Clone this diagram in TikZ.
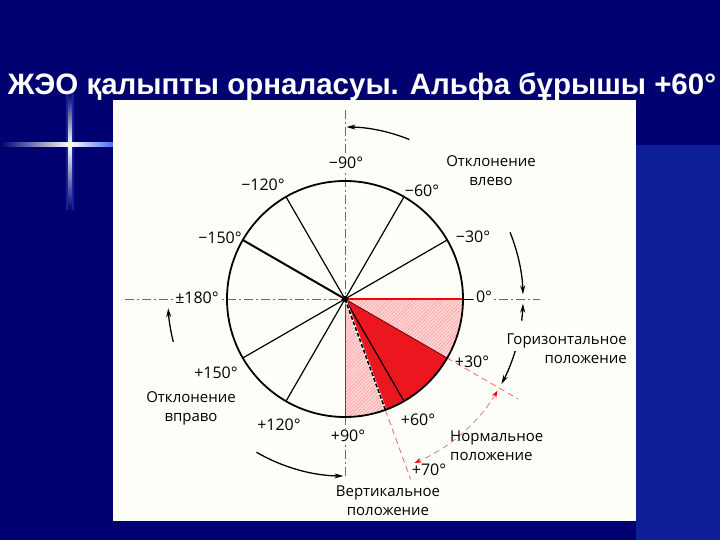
\documentclass[tikz,border=0pt]{standalone}
\usepackage{fontspec}
\setmainfont{Open Sans}
\newfontfamily\titlefont{Liberation Sans}
\usetikzlibrary{arrows.meta,patterns.meta}
\definecolor{slidebg}{RGB}{0,0,112}
\definecolor{slidebglight}{RGB}{14,30,150}
\definecolor{glowblue}{RGB}{70,110,255}
\definecolor{paper}{RGB}{255,255,250}
\definecolor{axisred}{RGB}{214,62,84}
\definecolor{sectorred}{RGB}{236,22,30}

\begin{document}
\begin{tikzpicture}[x=1pt,y=-1pt,
    axis/.style={axisred, line width=0.9pt, dash pattern=on 9pt off 3pt on 2pt off 3pt},
    ray/.style={axisred!70, line width=0.9pt, dash pattern=on 6pt off 4pt},
    spoke/.style={line width=1.2pt},
    turn/.style={line width=1.3pt, -{Stealth[length=9pt,width=5pt]}},
    lbl/.style={font=\fontsize{16}{18}\selectfont, inner sep=1pt},
    cover/.style={lbl, fill=paper},
    note/.style={font=\fontsize{15}{19}\selectfont, align=center, inner sep=0pt}]

    \useasboundingbox (0,0) rectangle (720,540);
    % slide background with the glowing cross
    \fill[slidebg] (0,0) rectangle (720,540);
    \fill[slidebglight] (636,145) rectangle (720,540);
    \fill[glowblue, opacity=0.3] (66,92) rectangle (74,210);
    \shade[top color=slidebg, bottom color=white] (68.5,92) rectangle (71.5,145);
    \shade[top color=white, bottom color=slidebg] (68.5,145) rectangle (71.5,210);
    \shade[left color=slidebg, right color=white] (0,143) rectangle (70,147);
    \shade[left color=white, right color=glowblue] (70,143) rectangle (113,147);

    \node[text=white, font=\titlefont\bfseries\fontsize{29.5}{31}\selectfont] (title) at (362,87) {ЖЭО қалыпты орналасуы. Альфа бұрышы +60°};

    % white sheet
    \fill[paper] (113,100) rectangle (636,521);

    \begin{scope}[shift={(345,299)}]
        \coordinate (O) at (0,0);
        % hatched quadrant 0..90
        \fill[red!16] (O) -- (0:118) arc[start angle=0, end angle=90, radius=118] -- cycle;
        \fill[pattern={Lines[angle=45, distance=2.5pt, line width=0.4pt]}, pattern color=red!45]
            (O) -- (0:118) arc[start angle=0, end angle=90, radius=118] -- cycle;
        % normal range 30..70
        \fill[sectorred] (O) -- (30:118) arc[start angle=30, end angle=70, radius=118] -- cycle;
        \draw[red!40!black, line width=0.8pt] (O) -- (30:118);

        % axes
        \draw[axis] (-220,0) -- (195,0);
        \draw[axis] (0,-189) -- (0,179);
        \draw[ray] (30:118) -- (30:200);
        \draw[ray] (70:118) -- (70:192);

        \foreach \a in {-120,-60,-30,60,120,150} \draw[spoke] (O) -- (\a:118);
        \draw[line width=2pt] (O) -- (-150:118);
        \draw[red, line width=2.2pt] (O) -- (0:118);
        \draw[red, line width=0.7pt] (O) -- (90:118);
        \draw[white, line width=2.2pt] (O) -- (70:118);
        \draw[line width=1.6pt, dash pattern=on 4pt off 2pt] (O) -- (70:118);
        \draw[line width=1.8pt] (O) circle[radius=118];
        \fill (O) circle (3pt);
        \draw[line width=1pt] (0:118) -- (0:128);

        % deviation arrows
        \draw[turn] (-68:172) arc[start angle=-68, end angle=-89.5, radius=172];
        \draw[turn] (-22:178) arc[start angle=-22, end angle=-1.5, radius=178];
        \draw[turn] (7:178) arc[start angle=7, end angle=1.5, radius=178];
        \draw[turn] (17:178) arc[start angle=17, end angle=28.5, radius=178];
        \draw[turn] (166:177) arc[start angle=166, end angle=177, radius=177];
        \draw[turn] (120:177) arc[start angle=120, end angle=90.5, radius=177];
        \draw[ray, line width=0.8pt, {Stealth[red, length=7pt, width=5pt]}-{Stealth[red, length=7pt, width=5pt]}]
            (31:178) arc[start angle=31, end angle=67, radius=178];
    \end{scope}

    % angle labels
    \node[cover] (lm90) at (346,163) {−90°};
    \node[lbl] (lm120) at (263,185) {−120°};
    \node[lbl] (lm60) at (422,191) {−60°};
    \node[lbl] (lm150) at (220,238) {−150°};
    \node[lbl] (lm30) at (473,237) {−30°};
    \node[cover] (l180) at (197,298) {±180°};
    \node[cover] (l0) at (484,297) {0°};
    \node[lbl] (lp30) at (472,362) {+30°};
    \node[lbl] (lp60) at (418,420) {+60°};
    \node[lbl] (lp70) at (429,470) {+70°};
    \node[cover] (lp90) at (348,436) {+90°};
    \node[lbl] (lp120) at (279,425) {+120°};
    \node[lbl] (lp150) at (216,373) {+150°};

    % captions
    \node[note] (dleft) at (491,171) {Отклонение\\влево};
    \node[note] (dright) at (191,408) {Отклонение\\вправо};
    \node[note, align=right, anchor=east] (horiz) at (627,349) {Горизонтальное\\положение};
    \node[note, align=left, anchor=west] (normal) at (450,446) {Нормальное\\положение};
    \node[note] (vert) at (388,501) {Вертикальное\\положение};
\end{tikzpicture}
\end{document}
